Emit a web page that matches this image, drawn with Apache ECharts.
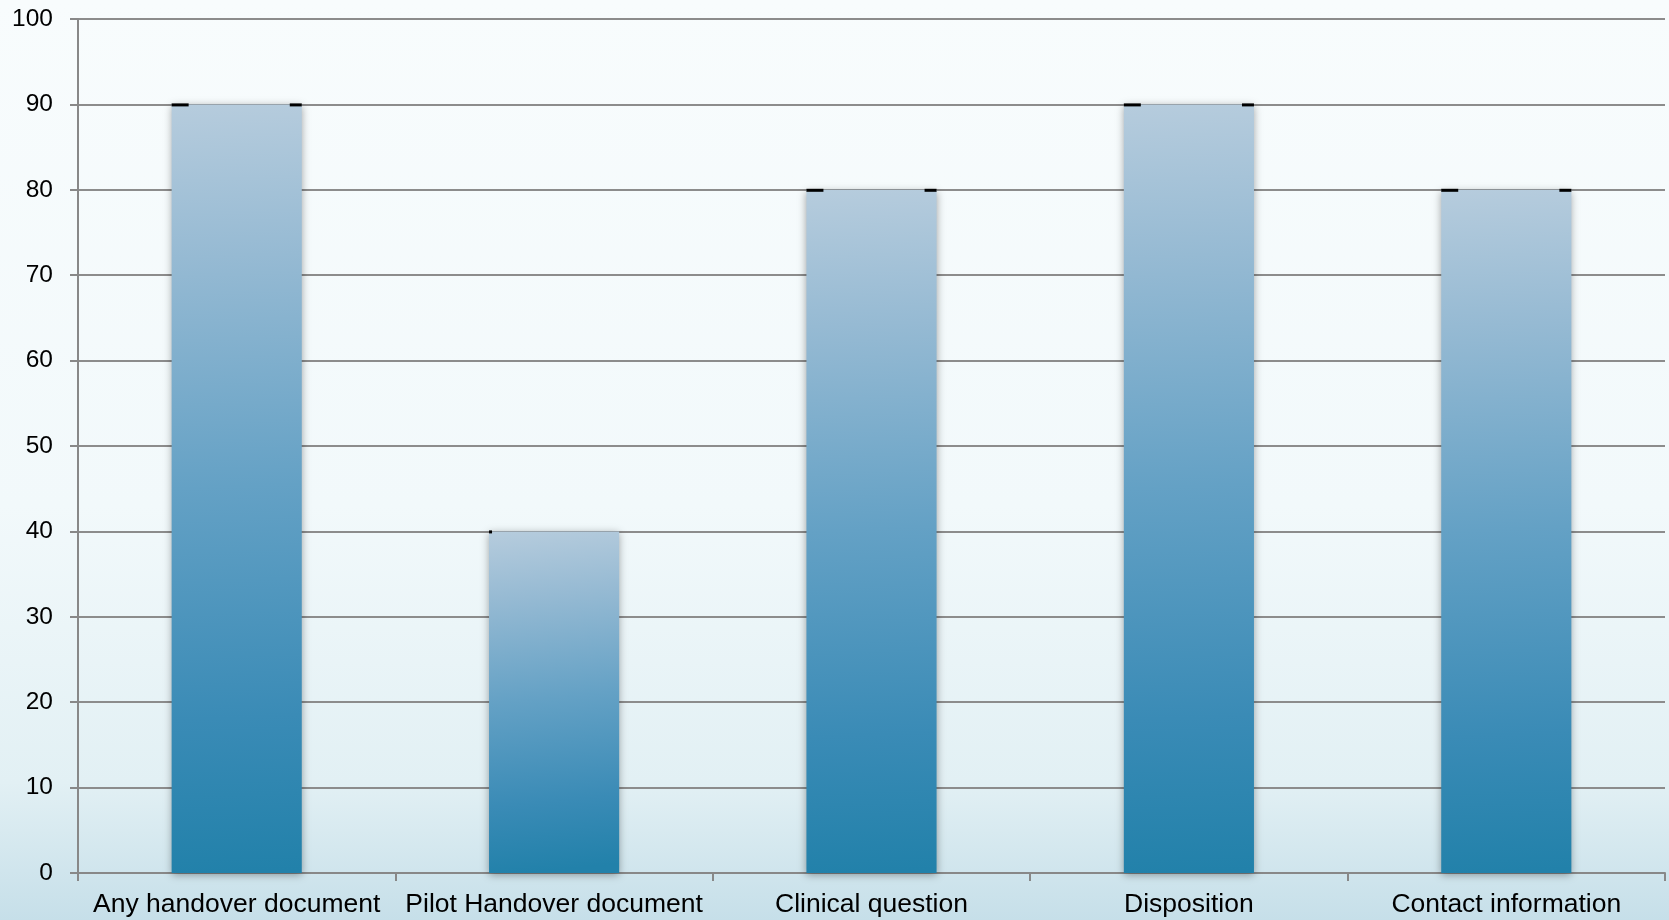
<!DOCTYPE html>
<html>
<head>
<meta charset="utf-8">
<script src="https://cdn.jsdelivr.net/npm/echarts@6/dist/echarts.min.js"></script>
<style>
html,body{margin:0;padding:0;width:1669px;height:920px;overflow:hidden;}
#c{width:1669px;height:920px;}
</style>
</head>
<body>
<div id="c"></div>
<script>
const categories = ['Any handover document', 'Pilot Handover document', 'Clinical question', 'Disposition', 'Contact information'];
const values = [90, 40, 80, 90, 80];
const yTicks = [0, 10, 20, 30, 40, 50, 60, 70, 80, 90, 100];

// cap artifact widths (left, right) per bar, in px — styling only
const capStyle = [[17, 12], [3, 0], [17, 12], [17, 12], [17, 12]];

const chart = echarts.init(document.getElementById('c'), null, {renderer: 'canvas'});
const font = '"Liberation Sans", Arial, sans-serif';
const BARFRAC = 0.41;

chart.setOption({
  animation: false,
  backgroundColor: new echarts.graphic.LinearGradient(0, 0, 0, 1, [
    {offset: 0, color: '#f8fcfd'},
    {offset: 0.55, color: '#f2f9fb'},
    {offset: 0.85, color: '#e2f0f4'},
    {offset: 1, color: '#c6dfe9'}
  ]),
  grid: {left: 78, right: 4, top: 19, bottom: 47, containLabel: false},
  xAxis: {
    type: 'category',
    data: categories,
    boundaryGap: true,
    axisLine: {show: true, lineStyle: {color: '#888888', width: 2}},
    axisTick: {show: true, length: 8, lineStyle: {color: '#888888', width: 2}},
    axisLabel: {interval: 0, color: '#000', fontSize: 26.5, fontFamily: font, margin: 18},
    splitLine: {show: false}
  },
  yAxis: {
    type: 'value',
    min: yTicks[0],
    max: yTicks[yTicks.length - 1],
    interval: yTicks[1] - yTicks[0],
    axisLine: {show: true, lineStyle: {color: '#888888', width: 2}},
    axisTick: {show: true, length: 8, lineStyle: {color: '#888888', width: 2}},
    axisLabel: {color: '#000', fontSize: 24.5, fontFamily: font, margin: 25},
    splitLine: {show: true, lineStyle: {color: '#8c8c8c', width: 2}}
  },
  series: [
    {
      type: 'bar',
      data: values,
      barWidth: (BARFRAC * 100) + '%',
      itemStyle: {
        color: new echarts.graphic.LinearGradient(0, 0, 0.25, 1, [
          {offset: 0, color: '#b6ccdd'},
          {offset: 0.2, color: '#96bad3'},
          {offset: 0.5, color: '#64a1c5'},
          {offset: 0.8, color: '#3a8bb6'},
          {offset: 1, color: '#2281aa'}
        ]),
        shadowColor: 'rgba(0,0,0,0.35)',
        shadowBlur: 8,
        shadowOffsetY: 2
      },
      z: 2
    },
    {
      type: 'custom',
      data: values.map((v, i) => [i, v]),
      z: 5,
      renderItem: function (params, api) {
        const idx = api.value(0);
        const v = api.value(1);
        const p = api.coord([idx, v]);
        const band = api.size([1, 0])[0];
        const w = band * BARFRAC;
        const x0 = p[0] - w / 2;
        const x1 = p[0] + w / 2;
        const cs = capStyle[params.dataIndex] || [0, 0];
        const children = [];
        if (cs[0] > 0) children.push({type: 'rect', shape: {x: x0, y: p[1] - 1, width: cs[0], height: 3}, style: {fill: '#000'}});
        if (cs[1] > 0) children.push({type: 'rect', shape: {x: x1 - cs[1], y: p[1] - 1, width: cs[1], height: 3}, style: {fill: '#000'}});
        return {type: 'group', children: children};
      }
    }
  ]
});
</script>
</body>
</html>
